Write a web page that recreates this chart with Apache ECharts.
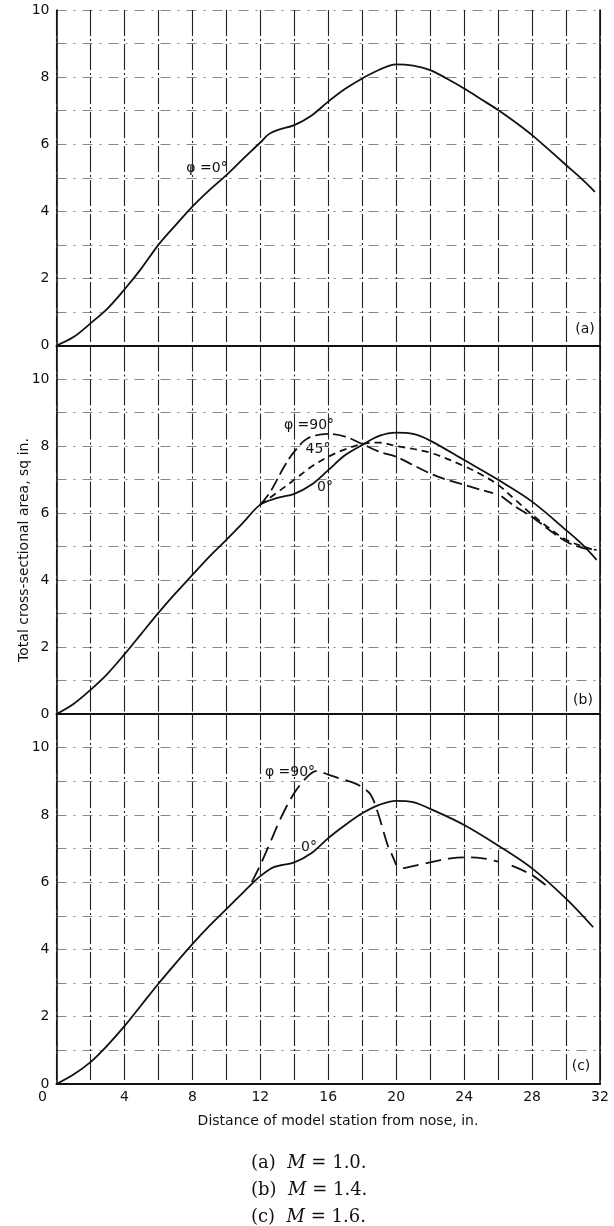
<!DOCTYPE html>
<html>
<head>
<meta charset="utf-8">
<script src="https://cdn.jsdelivr.net/npm/echarts@6/dist/echarts.min.js"></script>
<style>
  html, body { margin: 0; padding: 0; background: #fff; }
  #chart { width: 614px; height: 1226px; }
</style>
</head>
<body>
<div id="chart"></div>
<script>
// station (in.) vs total cross-sectional area (sq in.)
const stationA = [0, 1, 2, 3, 4, 5, 6, 7, 8, 9, 10, 11, 12, 12.5, 13, 14, 15, 16, 17, 18, 19, 20, 21, 22, 23, 24, 25, 26, 27, 28, 29, 30, 31, 31.7];
const areaA = [0, 0.25, 0.66, 1.1, 1.67, 2.3, 3.0, 3.58, 4.14, 4.63, 5.08, 5.57, 6.05, 6.3, 6.42, 6.57, 6.85, 7.27, 7.65, 7.96, 8.22, 8.38, 8.34, 8.21, 7.95, 7.66, 7.34, 7.02, 6.66, 6.27, 5.83, 5.38, 4.93, 4.58];

const stationB0 = [0, 1, 2, 3, 4, 5, 6, 7, 8, 9, 10, 11, 12, 13, 14, 15, 16, 17, 18, 19, 20, 21, 22, 24, 26, 28, 30, 31, 31.8];
const areaB0 = [0, 0.3, 0.72, 1.2, 1.78, 2.4, 3.02, 3.6, 4.15, 4.7, 5.2, 5.72, 6.25, 6.45, 6.57, 6.84, 7.28, 7.73, 8.03, 8.3, 8.4, 8.36, 8.16, 7.58, 6.99, 6.34, 5.49, 5.04, 4.6];
const stationB90 = [12, 12.6, 13.4, 14, 14.8, 16, 17, 18, 19, 20, 21, 22, 23, 24, 25, 25.7, 26, 26.2, 27, 28, 29, 30, 31, 31.8];
const areaB90 = [6.25, 6.64, 7.38, 7.83, 8.23, 8.36, 8.28, 8.06, 7.83, 7.68, 7.43, 7.18, 6.99, 6.84, 6.69, 6.59, null, 6.5, 6.2, 5.88, 5.5, 5.15, 4.95, 4.9];
const stationB45 = [12, 13.2, 14, 15, 16, 17, 18, 19, 20, 22, 24, 25, 26, 27, 28, 29, 30, 31, 31.8];
const areaB45 = [6.25, 6.69, 6.99, 7.38, 7.68, 7.9, 8.06, 8.1, 8.0, 7.8, 7.4, 7.15, 6.84, 6.4, 5.95, 5.55, 5.2, 5.0, 4.87];

const stationC0 = [0, 1, 2, 3, 4, 5, 6, 7, 8, 9, 10, 11, 11.5, 12, 12.8, 14, 15, 16, 17, 18, 19, 20, 21, 22, 24, 26, 28, 30, 31.6];
const areaC0 = [0, 0.28, 0.65, 1.15, 1.72, 2.35, 2.98, 3.58, 4.16, 4.7, 5.2, 5.7, 5.95, 6.18, 6.45, 6.59, 6.86, 7.31, 7.7, 8.05, 8.3, 8.42, 8.38, 8.18, 7.7, 7.09, 6.41, 5.51, 4.66];
const stationC90 = [11.5, 12, 12.6, 13.2, 14, 14.8, 15.3, 16, 16.7, 17.5, 18, 18.5, 18.9, 19.2, 19.5, 19.8, 20, 20.2, 20.4, 22, 23.2, 24, 25.1, 26, 26.4, 26.8, 28, 29.1];
const areaC90 = [6.0, 6.51, 7.2, 7.9, 8.65, 9.15, 9.3, 9.2, 9.08, 8.95, 8.82, 8.6, 8.1, 7.6, 7.1, 6.76, 6.51, null, 6.41, 6.59, 6.71, 6.74, 6.71, 6.61, null, 6.49, 6.21, 5.79];

const xTickLabels = [0, 4, 8, 12, 16, 20, 24, 28, 32];
const yTickLabels = [0, 2, 4, 6, 8, 10];
const panelMax = [10, 11, 11];
const captions = ['(a)', '(b)', '(c)'];
const machNumbers = ['1.0', '1.4', '1.6'];

const FONT = '"DejaVu Sans", sans-serif';
const SERIF = '"DejaVu Serif", "Liberation Serif", serif';

const panels = [
  { top: 10, height: 335.5 },
  { top: 345.5, height: 368.5 },
  { top: 714, height: 370 }
];

function pairs(xs, ys) {
  return xs.map((x, i) => [x, ys[i] === null ? '-' : ys[i]]);
}

function curve(grid, xs, ys, dash) {
  return {
    type: 'line',
    xAxisIndex: grid,
    yAxisIndex: grid,
    data: pairs(xs, ys),
    smooth: 0.35,
    showSymbol: false,
    connectNulls: false,
    lineStyle: { color: '#111', width: 1.8, type: dash || 'solid' },
    silent: true
  };
}

function label(text, x, y, size) {
  return {
    type: 'text', x: x, y: y,
    style: { text: text, font: (size || 14) + 'px ' + FONT, fill: '#111', align: 'center', verticalAlign: 'middle' }
  };
}

const chart = echarts.init(document.getElementById('chart'));

const option = {
  animation: false,
  backgroundColor: '#fff',
  grid: panels.map((p) => ({ left: 56.5, right: 14, top: p.top, height: p.height, containLabel: false })),
  xAxis: panels.map((p, i) => ({
    type: 'value',
    gridIndex: i,
    min: 0,
    max: 32,
    interval: 2,
    axisLine: { show: true, lineStyle: { color: '#111', width: 2 } },
    axisTick: { show: false },
    axisLabel: {
      show: i === 2,
      margin: 6,
      color: '#111',
      fontFamily: FONT,
      fontSize: 14,
      formatter: (v) => {
        if (!xTickLabels.includes(v)) return '';
        return v === 0 ? '{z|0}' : String(v);
      },
      rich: { z: { fontFamily: FONT, fontSize: 14, color: '#111', padding: [0, 28, 0, 0] } }
    },
    splitLine: { show: true, lineStyle: { color: '#222', width: 1.1, type: [26, 3, 2, 3] } }
  })),
  yAxis: panels.map((p, i) => ({
    type: 'value',
    gridIndex: i,
    min: 0,
    max: panelMax[i],
    interval: 1,
    axisLine: { show: true, lineStyle: { color: '#111', width: 1.6 } },
    axisTick: { show: false },
    axisLabel: {
      margin: 7,
      color: '#111',
      fontFamily: FONT,
      fontSize: 14,
      formatter: (v) => (yTickLabels.includes(v) ? String(v) : '')
    },
    splitLine: { show: true, lineStyle: { color: '#888', width: 1, type: [10, 7, 2, 7] } }
  })).concat(panels.map((p, i) => ({
    type: 'value',
    gridIndex: i,
    position: 'right',
    min: 0,
    max: panelMax[i],
    interval: 1,
    axisLine: { show: true, lineStyle: { color: '#111', width: 1.6 } },
    axisTick: { show: false },
    axisLabel: { show: false },
    splitLine: { show: false }
  }))),
  series: [
    curve(0, stationA, areaA),
    curve(1, stationB0, areaB0),
    curve(1, stationB90, areaB90, [13, 5]),
    curve(1, stationB45, areaB45, [7, 5]),
    curve(2, stationC0, areaC0),
    curve(2, stationC90, areaC90, [16, 7])
  ],
  graphic: [
    label('φ =0°', 207, 168),
    label('φ =90°', 309, 425),
    label('45°', 318, 449),
    label('0°', 325, 487),
    label('φ =90°', 290, 772),
    label('0°', 309, 847),
    label(captions[0], 585, 329),
    label(captions[1], 583, 700),
    label(captions[2], 581, 1066),
    {
      type: 'text', x: 24, y: 550, rotation: Math.PI / 2,
      style: { text: 'Total cross-sectional area, sq in.', font: '14px ' + FONT, fill: '#111', align: 'center', verticalAlign: 'middle' }
    },
    label('Distance of model station from nose, in.', 338, 1121)
  ].concat(captions.map((c, i) => ({
    type: 'text',
    x: 251,
    y: 1163 + i * 27,
    style: {
      text: c + '  {i|M} = ' + machNumbers[i] + '.',
      fontFamily: SERIF,
      fontSize: 18,
      fill: '#111',
      align: 'left',
      verticalAlign: 'middle',
      rich: { i: { fontFamily: SERIF, fontSize: 18, fontStyle: 'italic', fill: '#111' } }
    }
  })))
};

chart.setOption(option);
</script>
</body>
</html>
